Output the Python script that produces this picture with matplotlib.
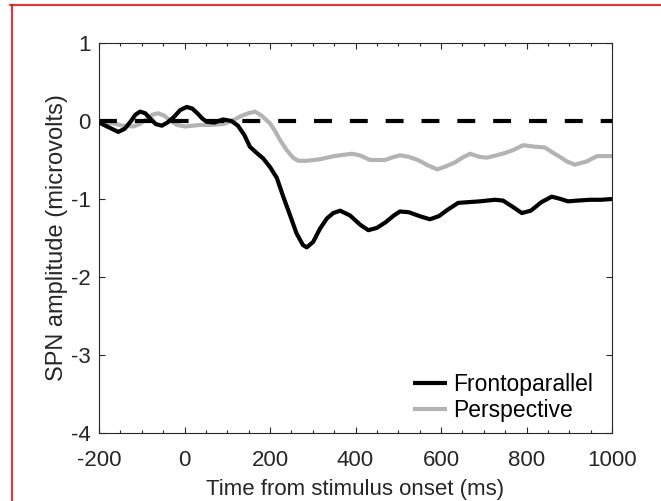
import matplotlib
matplotlib.use("Agg")
import matplotlib.pyplot as plt
from matplotlib.lines import Line2D
from matplotlib.ticker import MultipleLocator

plt.rcParams['font.family'] = ['Liberation Sans', 'DejaVu Sans']

# Frontoparallel (black)
t_front = [-200, -185, -170, -155, -140, -125, -115, -104, -92, -80, -67, -53, -40, -25, -10,
           5, 18, 30, 42, 52, 70, 90, 110, 125, 140, 153, 169, 184, 200, 216, 231, 247, 262,
           277, 286, 301, 317, 333, 348, 364, 387, 411, 430, 450, 470, 490, 504, 525, 550,
           574, 595, 615, 640, 665, 691, 726, 745, 765, 789, 810, 835, 859, 880, 897, 920,
           948, 975, 1000]
v_front = [-0.02, -0.06, -0.10, -0.14, -0.10, 0.0, 0.08, 0.12, 0.10, 0.03, -0.04, -0.06,
           -0.02, 0.05, 0.14, 0.18, 0.16, 0.10, 0.03, -0.01, -0.02, 0.02, 0.0, -0.06, -0.18,
           -0.33, -0.41, -0.48, -0.59, -0.73, -0.97, -1.21, -1.44, -1.59, -1.62, -1.55, -1.38,
           -1.25, -1.18, -1.15, -1.21, -1.33, -1.40, -1.37, -1.30, -1.21, -1.16, -1.17, -1.22,
           -1.26, -1.22, -1.14, -1.05, -1.04, -1.03, -1.01, -1.02, -1.09, -1.18, -1.15, -1.04,
           -0.97, -1.00, -1.03, -1.02, -1.01, -1.01, -1.00]

# Perspective (gray)
t_persp = [-200, -185, -167, -145, -120, -105, -90, -75, -62, -48, -34, -18, 1, 20, 36, 60,
           90, 110, 135, 150, 165, 180, 200, 212, 223, 240, 254, 266, 286, 317, 350, 391, 410,
           434, 469, 490, 504, 525, 546, 570, 591, 612, 633, 650, 668, 690, 707, 730, 750, 770,
           792, 820, 843, 860, 878, 895, 913, 940, 965, 1000]
v_persp = [0.0, -0.02, -0.03, -0.06, -0.07, -0.04, 0.02, 0.08, 0.10, 0.07, 0.01, -0.05,
           -0.07, -0.06, -0.05, -0.05, -0.04, 0.0, 0.07, 0.10, 0.12, 0.07, -0.03, -0.13, -0.24,
           -0.38, -0.47, -0.51, -0.51, -0.49, -0.45, -0.42, -0.44, -0.50, -0.50, -0.46, -0.44,
           -0.46, -0.50, -0.57, -0.62, -0.58, -0.53, -0.47, -0.42, -0.46, -0.47, -0.44, -0.41,
           -0.37, -0.31, -0.33, -0.34, -0.40, -0.46, -0.52, -0.56, -0.52, -0.45, -0.45]

labels = ["Frontoparallel", "Perspective"]
xticks = [-200, 0, 200, 400, 600, 800, 1000]
yticks = [-4, -3, -2, -1, 0, 1]

W, H = 661, 501
fig = plt.figure(figsize=(W / 100, H / 100), dpi=100)
ax = fig.add_axes([99 / W, 1 - 433 / H, (612 - 99) / W, (433 - 43) / H])

axcol = '#262626'
fs = 16
ax.plot(t_front, v_front, color='black', lw=3, label=labels[0], solid_joinstyle='round',
        solid_capstyle='butt', zorder=3)
ax.plot(t_persp, v_persp, color='#b3b3b3', lw=3, label=labels[1], solid_joinstyle='round',
        solid_capstyle='butt', zorder=2)
ax.plot([-200, 1000], [0, 0], color='black', lw=3, dashes=(4.3, 4.3), zorder=2.5)

ax.set_xlim(-200, 1000)
ax.set_ylim(-4, 1)
ax.set_xticks(xticks)
ax.set_yticks(yticks)
ax.set_xticklabels([str(x) for x in xticks])
ax.set_yticklabels([str(y) for y in yticks])
ax.xaxis.set_minor_locator(MultipleLocator(50))

for s in ax.spines.values():
    s.set_color(axcol)
    s.set_linewidth(0.8)
ax.tick_params(which='both', direction='in', top=True, right=True, colors=axcol,
               labelsize=fs, labelcolor=axcol, width=0.8)
ax.tick_params(which='major', length=4.5)
ax.tick_params(which='minor', length=2.2)
ax.tick_params(axis='x', pad=12)
ax.tick_params(axis='y', pad=6)

ax.set_xlabel("Time from stimulus onset (ms)", fontsize=fs, color=axcol, labelpad=6)
ax.set_ylabel("SPN amplitude (microvolts)", fontsize=17, color=axcol, labelpad=2)

leg = ax.legend(loc='lower right', bbox_to_anchor=(1.0 - 3 / 513, -5 / 390), frameon=False,
                fontsize=16.5, handlelength=1.5, handletextpad=0.27, borderaxespad=0.3,
                labelspacing=0.12)

# red frame lines at figure edge
fig.add_artist(Line2D([10 / W, 1], [1 - 5 / H, 1 - 5 / H], color='red', lw=1.2, transform=fig.transFigure))
fig.add_artist(Line2D([12 / W, 12 / W], [0, 1 - 5 / H], color='red', lw=1.2, transform=fig.transFigure))

fig.savefig("out.png", dpi=100)
